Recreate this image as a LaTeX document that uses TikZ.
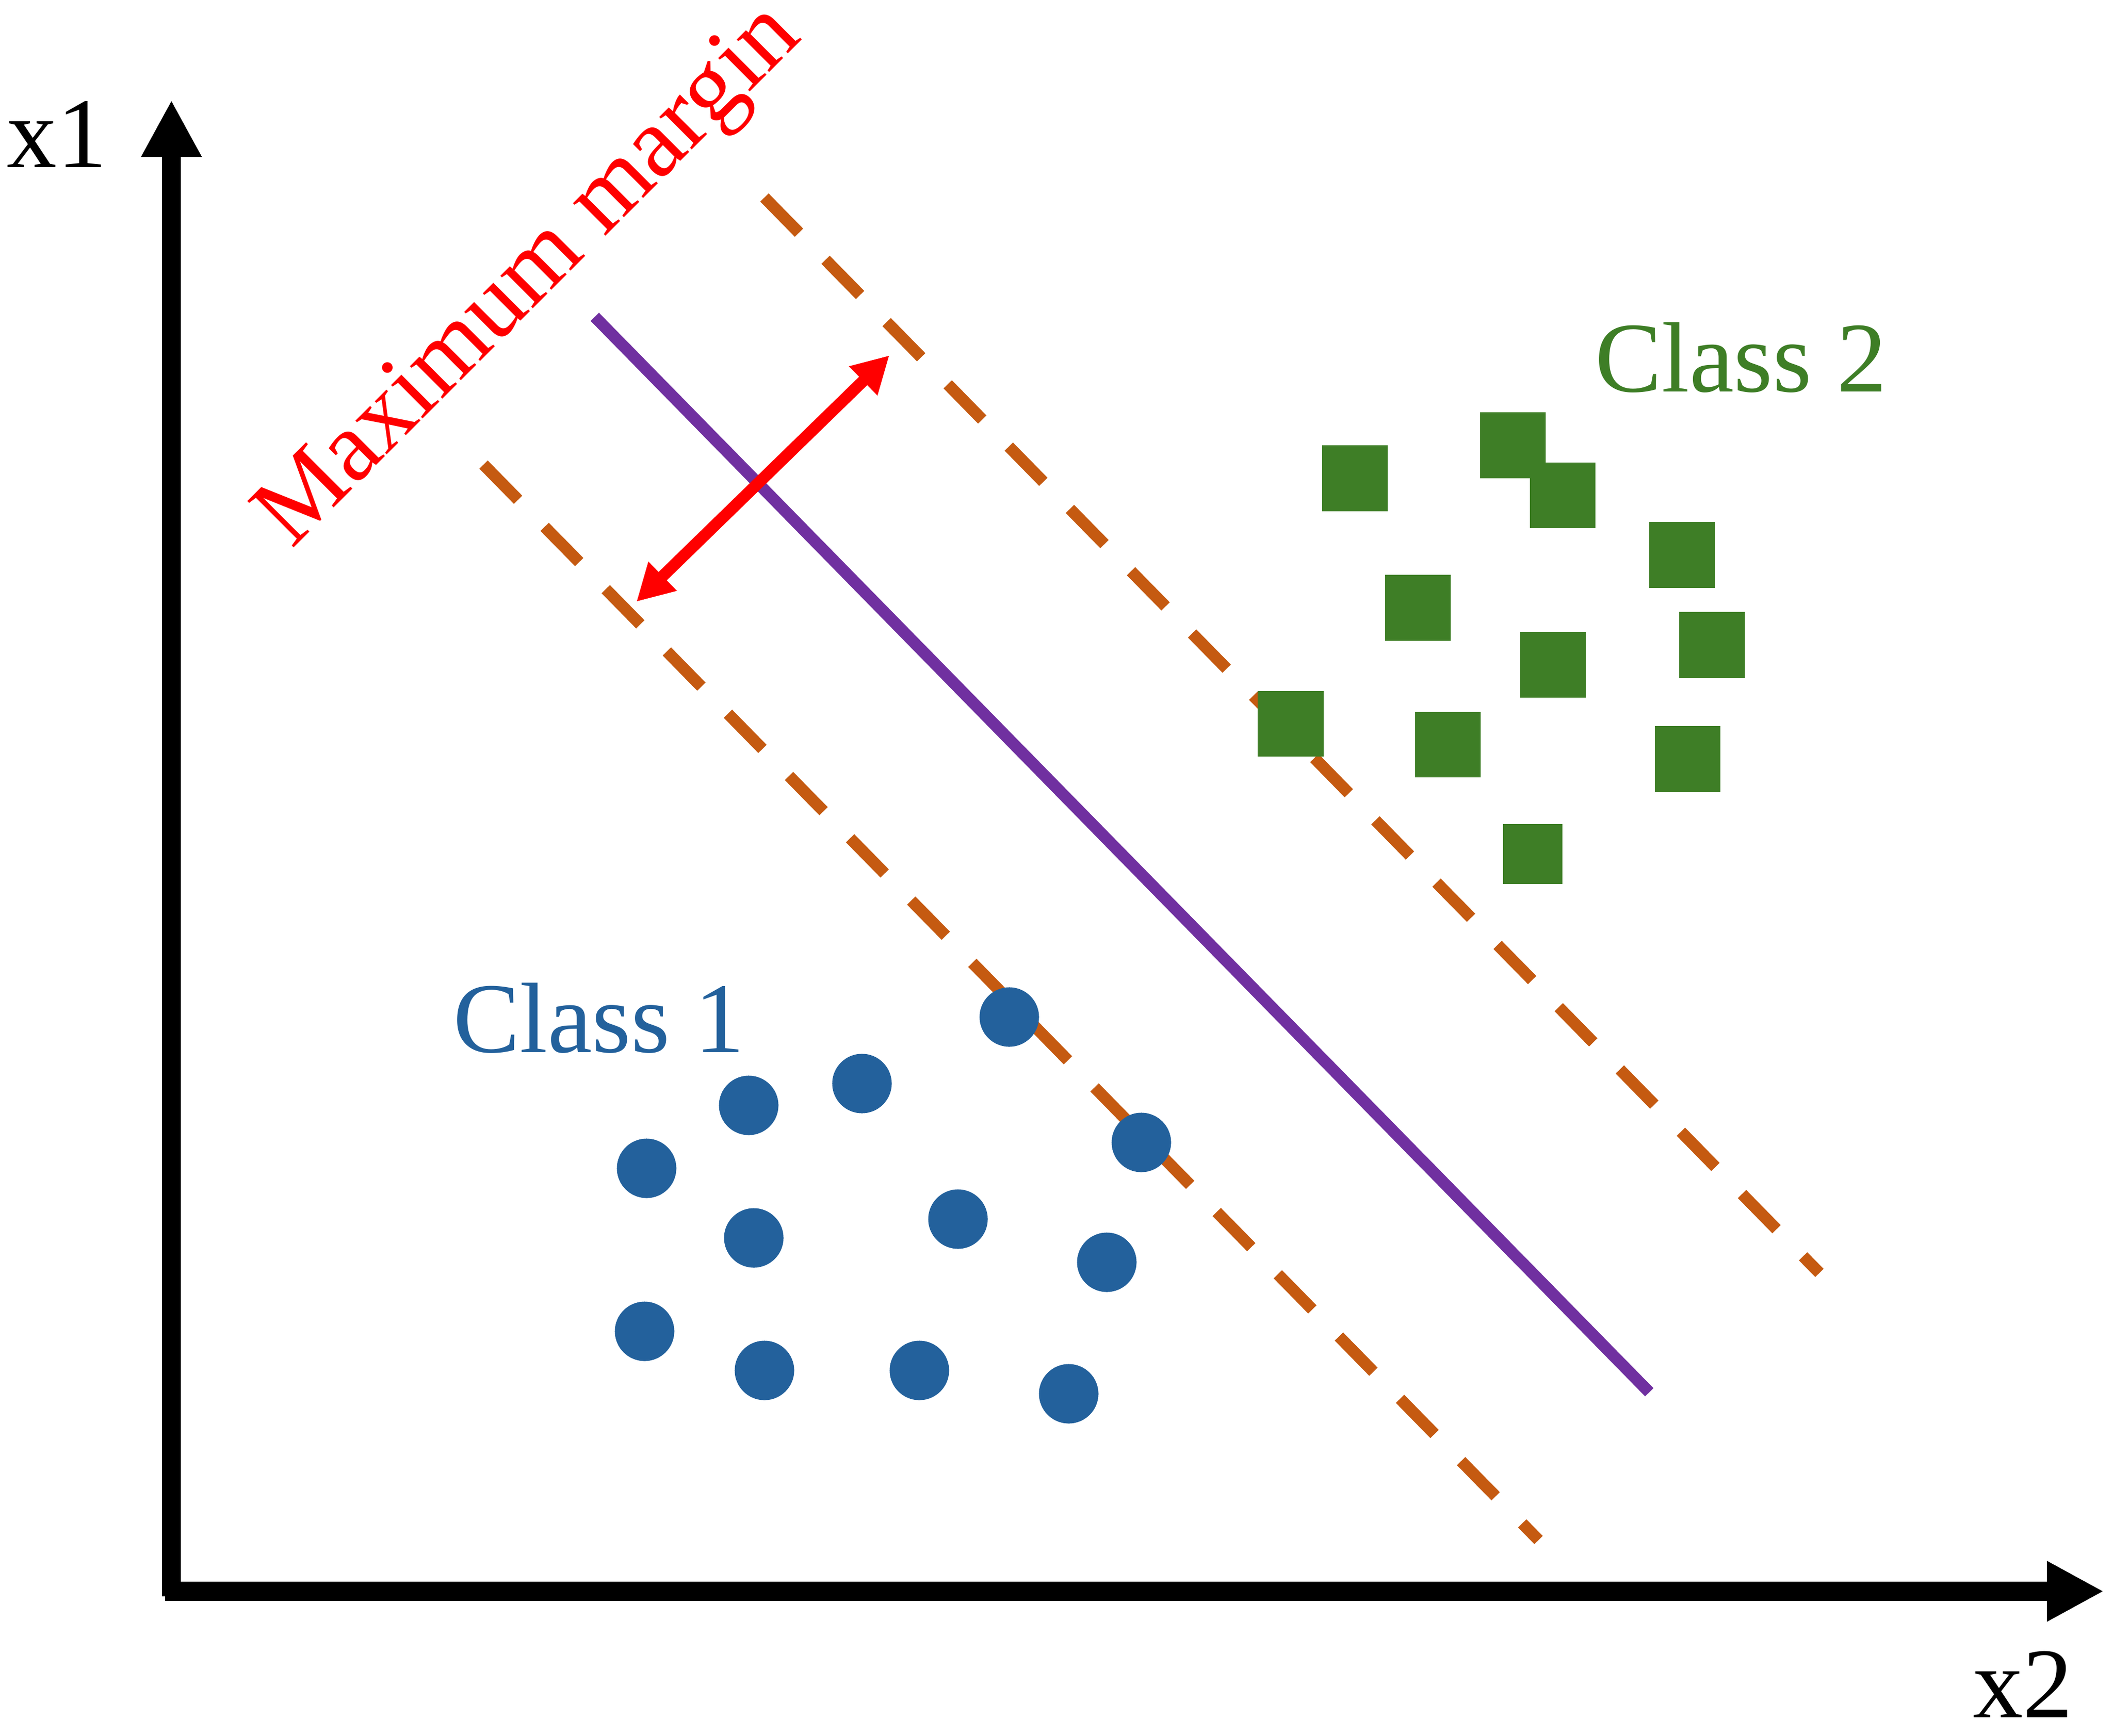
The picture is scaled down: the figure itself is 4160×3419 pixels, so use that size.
\documentclass[tikz,border=0pt]{standalone}
\usepackage{fontspec}
\setmainfont{Liberation Serif}
\usetikzlibrary{arrows.meta}
\definecolor{cone}{RGB}{35,97,156}
\definecolor{ctwo}{RGB}{62,126,38}
\definecolor{sepcol}{RGB}{112,48,160}
\definecolor{margcol}{RGB}{197,90,17}
\begin{document}
\begin{tikzpicture}[x=0.01cm,y=-0.01cm,
  lbl/.style={font=\fontsize{56}{60}\selectfont, inner sep=0pt, outer sep=0pt},
  axisline/.style={line width=0.375cm, -{Triangle[length=1.12cm,width=1.11cm]}},
  ptA/.style={circle, fill=cone, minimum size=1.17cm, inner sep=0pt},
  ptB/.style={rectangle, fill=ctwo, minimum size=1.29cm, inner sep=0pt},
  marginline/.style={draw=margcol, line width=0.23cm, dash pattern=on 0.97cm off 0.747cm},
  hyper/.style={draw=sepcol, line width=0.23cm},
  widtharrow/.style={draw=red, line width=0.23cm, {Triangle[length=0.72cm,width=0.75cm]}-{Triangle[length=0.72cm,width=0.75cm]}}
]
\useasboundingbox (0,0) rectangle (4160,3419);

% coordinates
\coordinate (Ov) at (337.5,3144);
\coordinate (Ytip) at (337.5,197);
\coordinate (Oh) at (325,3134);
\coordinate (Xtip) at (4142,3134);
\coordinate (UpA) at (1505,389);
\coordinate (UpB) at (3582,2507);
\coordinate (LoA) at (952,915);
\coordinate (LoB) at (3029,3033);
\coordinate (HyA) at (1171,624);
\coordinate (HyB) at (3247,2742);
\coordinate (MgA) at (1253,1185);
\coordinate (MgB) at (1751,700);

% margin lines
\draw[marginline] (UpA) -- (UpB);
\draw[marginline] (LoA) -- (LoB);
% separating hyperplane
\draw[hyper] (HyA) -- (HyB);
% margin arrow
\draw[widtharrow] (MgA) -- (MgB);

% class 1 points
\node[ptA] (c1) at (1987,2003) {};
\node[ptA] (c2) at (1697,2134) {};
\node[ptA] (c3) at (1474,2177) {};
\node[ptA] (c4) at (1273,2301) {};
\node[ptA] (c5) at (2247,2250) {};
\node[ptA] (c6) at (1484,2438) {};
\node[ptA] (c7) at (1886,2401) {};
\node[ptA] (c8) at (2179,2486) {};
\node[ptA] (c9) at (1269,2622) {};
\node[ptA] (c10) at (1505,2699) {};
\node[ptA] (c11) at (1810,2699) {};
\node[ptA] (c12) at (2104,2745) {};

% class 2 points
\node[ptB] (s1) at (2667.5,942) {};
\node[ptB] (s2) at (2978.5,877) {};
\node[ptB] (s3) at (3076.5,975.5) {};
\node[ptB] (s4) at (3311.5,1093) {};
\node[ptB] (s5) at (2791.5,1197) {};
\node[ptB] (s6) at (3057.5,1309.5) {};
\node[ptB] (s7) at (3370.5,1270) {};
\node[ptB] (s8) at (2541,1425.5) {};
\node[ptB] (s9) at (2850.5,1466.5) {};
\node[ptB] (s10) at (3322,1495) {};
\node[ptB, minimum size=1.17cm] (s11) at (3017.5,1682) {};

% axes
\draw[axisline] (Ov) -- (Ytip);
\draw[axisline] (Oh) -- (Xtip);

% labels
\node[lbl, anchor=base west] (lx1) at (14,330) {x1};
\node[lbl, anchor=base west] (lx2) at (3884,3382) {x2};
\node[lbl, anchor=base west, text=cone] (lc1) at (892,2072) {Class 1};
\node[lbl, anchor=base west, text=ctwo] (lc2) at (3140,772) {Class 2};
\node[lbl, anchor=base, text=red, rotate=45] (lmm) at (1078,579) {Maximum margin};
\end{tikzpicture}
\end{document}
